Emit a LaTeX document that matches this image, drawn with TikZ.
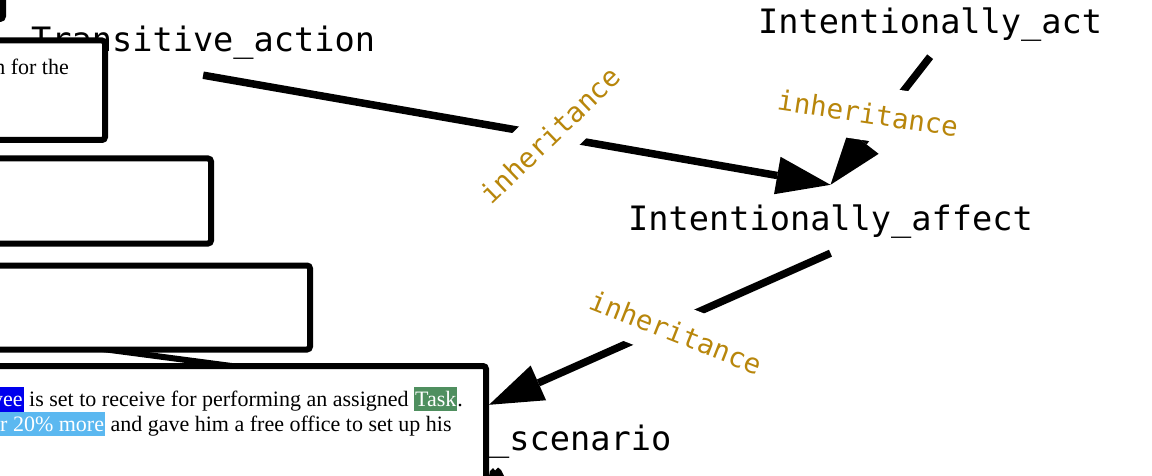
\documentclass[tikz,border=0pt]{standalone}
\usepackage{fontspec}
\setmainfont{Liberation Serif}
\newfontfamily\monofam{DejaVu Sans Mono}
\usetikzlibrary{arrows.meta}
\definecolor{inhcol}{HTML}{B8860B}
\definecolor{hlblue}{HTML}{0000EE}
\definecolor{hlsky}{HTML}{5BB8F0}
\definecolor{hlgreen}{HTML}{4F8F5F}
\newcommand\hlbox[2]{{\setlength\fboxsep{1pt}\colorbox{#1}{\color{white}\rule[-3.5pt]{0pt}{21.5pt}#2}}}
\begin{document}
\begin{tikzpicture}[x=1pt,y=-1pt,
  framelabel/.style={font=\monofam\fontsize{33.6}{40}\selectfont, text height=28pt, text depth=6pt, inner xsep=0pt, inner ysep=17pt, anchor=base west},
  inhlabel/.style={font=\monofam\fontsize{27.5}{32}\selectfont, text=inhcol, fill=white, text height=21pt, text depth=0pt, inner xsep=6pt, inner ysep=17pt},
  edgeline/.style={line width=7.5pt, -{Triangle[length=54pt,width=38pt,line width=0pt]}},
  annobox/.style={draw=black, fill=white, line width=6pt, rounded corners=3pt},
  annotext/.style={font=\fontsize{22}{25}\selectfont, inner sep=0pt, anchor=base west}
]
\useasboundingbox (0,0) rectangle (1152,476);
\clip (0,0) rectangle (1152,476);
% hidden connector between boxes
\coordinate (h1) at (0,335.5);
\coordinate (h2) at (300,375);
\draw[line width=6pt] (h1) -- (h2);
% frame labels
\node[framelabel] (T) at (31,52) {Transitive\_action};
\node[framelabel] (IA) at (758,33.5) {Intentionally\_act};
\node[framelabel] (IF) at (628,230) {Intentionally\_affect};
\node[framelabel] (S) at (489,450) {\_scenario};
% edges
\draw[edgeline] (T.south) -- (IF.north);
\draw[edgeline] (IA.south) -- (IF.north);
\draw[edgeline] (IF.south) -- (S.north west);
\fill (489,476) -- (490,471) -- (493,468) -- (495,470.5) -- (498,467.5) -- (501,470) -- (504,476) -- cycle;
% edge labels
\node[inhlabel, rotate=44] (L1) at (550,135) {inheritance};
\node[inhlabel, rotate=-8.5] (L2) at (868,113) {inheritance};
\node[inhlabel, rotate=-21.5] (L3) at (676,332) {inheritance};
% annotation boxes
\draw[annobox] (-30,-30) rectangle (3,19);
\draw[annobox] (-30,40.5) rectangle (105,140);
\draw[annobox] (-30,158.5) rectangle (211,243.5);
\draw[annobox] (-30,265.5) rectangle (310,349.5);
\draw[annobox] (-30,366) rectangle (486,530);
% annotation texts
\node[annotext, anchor=base east] (t1) at (69,75) {n for the};
\node[annotext] (t4a) at (-9,406) {\hlbox{hlblue}{yee} is set to receive for performing an assigned \hlbox{hlgreen}{Task}.};
\node[annotext] (t4b) at (-1,431) {\hlbox{hlsky}{r 20\% more} and gave him a free office to set up his};
\end{tikzpicture}
\end{document}
